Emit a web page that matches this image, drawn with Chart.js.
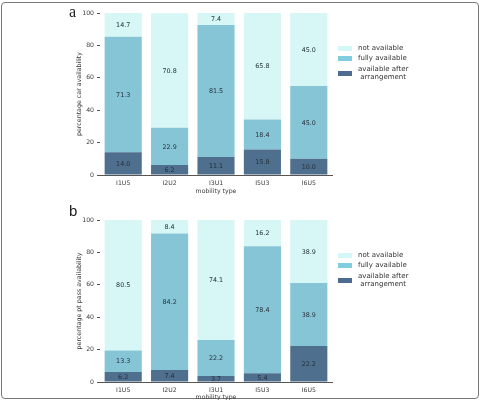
<!DOCTYPE html>
<html>
<head>
<meta charset="utf-8">
<script src="https://cdn.jsdelivr.net/npm/chart.js@4/dist/chart.umd.min.js"></script>
<style>
  html, body { margin: 0; padding: 0; background: #fff; }
  #page { position: relative; width: 482px; height: 400px; overflow: hidden; background: #fff; }
  #frame { position: absolute; left: 1px; top: 2px; width: 476px; height: 395px; border: 1px solid #777; border-radius: 4px; }
  .cv { position: absolute; left: 0; }
  .panel { position: absolute; color: #222; }
  .legend { position: absolute; font-family: "DejaVu Sans", sans-serif; font-size: 7px; color: #333; width: 130px; }
  .legend .sw { position: absolute; left: 0; width: 14px; height: 5px; }
  .legend .tx { position: absolute; left: 20px; text-align: center; line-height: 8px; white-space: nowrap; }
</style>
</head>
<body>
<div id="page">
  <div id="frame"></div>
  <canvas id="ca" class="cv" width="482" height="200" style="top:0px;width:482px;height:200px"></canvas>
  <canvas id="cb" class="cv" width="482" height="200" style="top:200px;width:482px;height:200px"></canvas>
  <div class="panel" style="left:69px;top:3px;font-family:'Liberation Serif',serif;font-size:16px;">a</div>
  <div class="panel" style="left:69px;top:202px;font-family:'Liberation Sans',sans-serif;font-size:15px;">b</div>
  <div id="la" class="legend" style="left:338px;top:43px;"></div>
  <div id="lb" class="legend" style="left:338px;top:250px;"></div>
</div>
<script>
// ---- data ----
const categories = ['I1U5', 'I2U2', 'I3U1', 'I5U3', 'I6U5'];
const seriesNames = ['available after\narrangement', 'fully available', 'not available'];
const yTicks = [0, 20, 40, 60, 80, 100];

const carAfter = [14.0, 6.2, 11.1, 15.8, 10.0];
const carFully = [71.3, 22.9, 81.5, 18.4, 45.0];
const carNot   = [14.7, 70.8, 7.4, 65.8, 45.0];

const ptAfter = [6.2, 7.4, 3.7, 5.4, 22.2];
const ptFully = [13.3, 84.2, 22.2, 78.4, 38.9];
const ptNot   = [80.5, 8.4, 74.1, 16.2, 38.9];

const barColors = ['#4f6f8f', '#86c5d6', '#d6f7f5'];
const legendColors = ['#4e6c91', '#80cde0', '#d4f8f7'];
const FONT = 'DejaVu Sans';

const valueLabels = {
  id: 'valueLabels',
  afterDatasetsDraw(chart) {
    const ctx = chart.ctx;
    ctx.save();
    ctx.font = '6.4px "' + FONT + '"';
    ctx.fillStyle = '#26303a';
    ctx.textAlign = 'center';
    ctx.textBaseline = 'middle';
    chart.data.datasets.forEach((ds, i) => {
      const meta = chart.getDatasetMeta(i);
      meta.data.forEach((el, j) => {
        const p = el.getProps(['x', 'y', 'base'], true);
        ctx.fillText(Number(ds.data[j]).toFixed(1), p.x, (p.y + p.base) / 2 + 0.5);
      });
    });
    ctx.restore();
  }
};

function makeChart(id, after, fully, not, yTitle, padTop, xHeight, xTitlePad) {
  const series = [after, fully, not];
  return new Chart(document.getElementById(id), {
    type: 'bar',
    data: {
      labels: categories,
      datasets: series.map((d, i) => ({
        label: seriesNames[i],
        data: d,
        backgroundColor: barColors[i],
        borderWidth: 0,
        barPercentage: 0.8,
        categoryPercentage: 1.0
      }))
    },
    options: {
      responsive: false,
      animation: false,
      events: [],
      layout: { padding: { left: 72, top: padTop, right: 150, bottom: 0 } },
      plugins: { legend: { display: false }, tooltip: { enabled: false } },
      scales: {
        x: {
          stacked: true,
          afterFit(s) { s.height = xHeight; },
          grid: { display: false, drawTicks: false },
          border: { display: true, color: '#555', width: 1 },
          ticks: { color: '#3a3a3a', padding: 5, font: { family: FONT, size: 6.2 } },
          title: { display: true, text: 'mobility type', color: '#3a3a3a',
                   font: { family: FONT, size: 6.2, lineHeight: 1 }, padding: { top: 0, bottom: xTitlePad } }
        },
        y: {
          stacked: true,
          min: 0, max: 100,
          afterFit(s) { s.width = 28; },
          afterBuildTicks(s) { s.ticks = yTicks.map(v => ({ value: v })); },
          grid: { drawOnChartArea: false, drawTicks: true, tickLength: 3, color: '#555' },
          border: { display: false },
          ticks: { color: '#3a3a3a', padding: 3, font: { family: FONT, size: 6.2 } },
          title: { display: true, text: yTitle, color: '#3a3a3a',
                   font: { family: FONT, size: 6.3, lineHeight: 1 }, padding: { top: 4, bottom: 0 } }
        }
      }
    },
    plugins: [valueLabels]
  });
}

makeChart('ca', carAfter, carFully, carNot, 'percentage car availability', 13, 25, 6);
makeChart('cb', ptAfter, ptFully, ptNot, 'percentage pt pass availability', 20, 18, 0);

function buildLegend(id) {
  const el = document.getElementById(id);
  const order = [2, 1, 0];
  const rows = [
    { swTop: 3, txTop: 1 },
    { swTop: 13, txTop: 11 },
    { swTop: 28, txTop: 22 }
  ];
  order.forEach((si, k) => {
    const sw = document.createElement('div');
    sw.className = 'sw';
    sw.style.top = rows[k].swTop + 'px';
    sw.style.background = legendColors[si];
    el.appendChild(sw);
    const tx = document.createElement('div');
    tx.className = 'tx';
    tx.style.top = rows[k].txTop + 'px';
    tx.innerHTML = seriesNames[si].split('\n').join('<br>');
    el.appendChild(tx);
  });
}
buildLegend('la');
buildLegend('lb');
</script>
</body>
</html>
